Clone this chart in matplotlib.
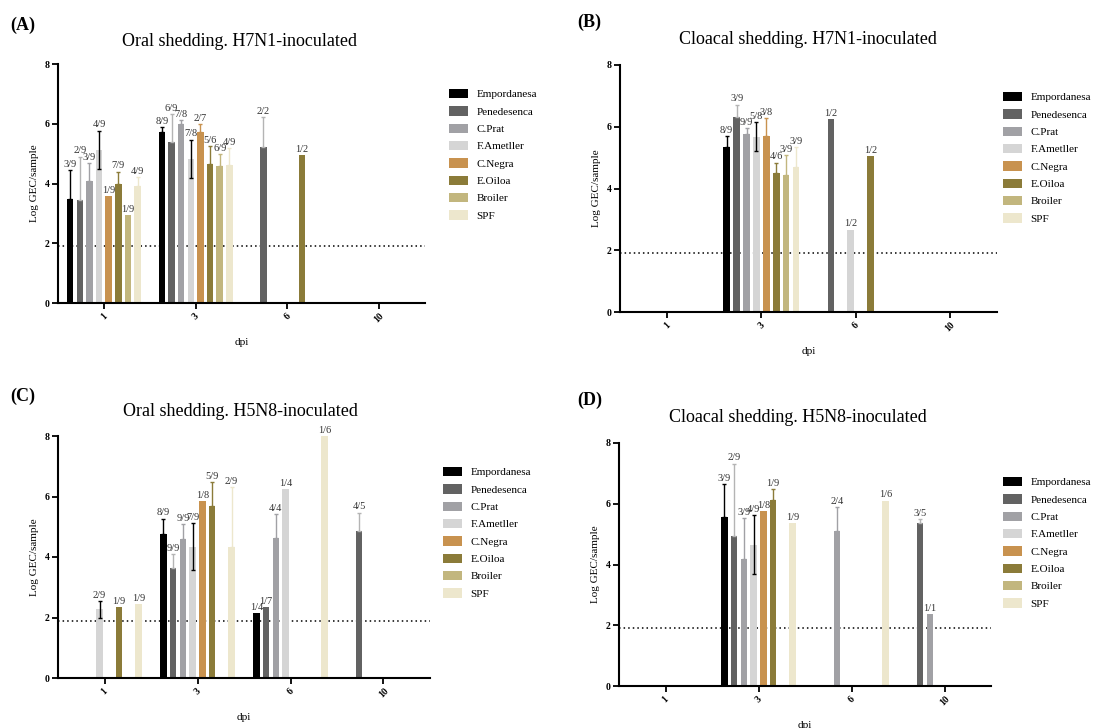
import numpy as np
import matplotlib
matplotlib.use('Agg')
import matplotlib.pyplot as plt
from matplotlib.patches import Patch

plt.rcParams['font.family'] = ['Liberation Serif', 'DejaVu Serif']

nan = np.nan

breeds = ['Empordanesa', 'Penedesenca', 'C.Prat', 'F.Ametller', 'C.Negra', 'E.Oiloa', 'Broiler', 'SPF']
dpi_labels = ['1', '3', '6', '10']
colors = ['#000000', '#626262', '#a1a1a5', '#d5d5d5', '#c8924f', '#8b7b39', '#c2b67e', '#ede7cd']
err_colors = ['#000000', '#b4b4b4', '#a1a1a5', '#000000', '#c8924f', '#8b7b39', '#c2b67e', '#ede7cd']

# (A) oral, H7N1 -- rows = breeds, cols = dpi
a_mean = [[3.49, 5.72, nan, nan],
          [3.45, 5.40, 5.21, nan],
          [4.10, 5.99, nan, nan],
          [5.13, 4.82, nan, nan],
          [3.57, 5.74, nan, nan],
          [3.98, 4.65, 4.95, nan],
          [2.95, 4.59, nan, nan],
          [3.92, 4.61, nan, nan]]
a_err = [[0.97, 0.16, 0, 0],
         [1.45, 0.92, 1.01, 0],
         [0.58, 0.12, 0, 0],
         [0.64, 0.65, 0, 0],
         [0, 0.25, 0, 0],
         [0.42, 0.59, 0, 0],
         [0, 0.40, 0, 0],
         [0.29, 0.57, 0, 0]]
a_n = [['3/9', '8/9', '', ''],
       ['2/9', '6/9', '2/2', ''],
       ['3/9', '7/8', '', ''],
       ['4/9', '7/8', '', ''],
       ['1/9', '2/7', '', ''],
       ['7/9', '5/6', '1/2', ''],
       ['1/9', '6/9', '', ''],
       ['4/9', '4/9', '', '']]

# (B) cloacal, H7N1
b_mean = [[nan, 5.34, nan, nan],
          [nan, 6.30, 6.24, nan],
          [nan, 5.76, nan, nan],
          [nan, 5.68, 2.67, nan],
          [nan, 5.70, nan, nan],
          [nan, 4.49, 5.05, nan],
          [nan, 4.43, nan, nan],
          [nan, 4.69, nan, nan]]
b_err = [[0, 0.36, 0, 0],
         [0, 0.42, 0, 0],
         [0, 0.19, 0, 0],
         [0, 0.48, 0, 0],
         [0, 0.59, 0, 0],
         [0, 0.35, 0, 0],
         [0, 0.65, 0, 0],
         [0, 0.64, 0, 0]]
b_n = [['', '8/9', '', ''],
       ['', '3/9', '1/2', ''],
       ['', '9/9', '', ''],
       ['', '5/8', '1/2', ''],
       ['', '3/8', '', ''],
       ['', '4/6', '1/2', ''],
       ['', '3/9', '', ''],
       ['', '3/9', '', '']]

# (C) oral, H5N8
c_mean = [[nan, 4.76, 2.14, nan],
          [nan, 3.65, 2.34, 4.87],
          [nan, 4.59, 4.64, nan],
          [2.27, 4.34, 6.24, nan],
          [nan, 5.85, nan, nan],
          [2.34, 5.68, nan, nan],
          [nan, nan, nan, nan],
          [2.44, 4.34, 8.00, nan]]
c_err = [[0, 0.51, 0, 0],
         [0, 0.44, 0, 0.60],
         [0, 0.49, 0.77, 0],
         [0.28, 0.78, 0, 0],
         [0, 0, 0, 0],
         [0, 0.79, 0, 0],
         [0, 0, 0, 0],
         [0, 1.98, 0, 0]]
c_n = [['', '8/9', '1/4', ''],
       ['', '9/9', '1/7', '4/5'],
       ['', '9/9', '4/4', ''],
       ['2/9', '7/9', '1/4', ''],
       ['', '1/8', '', ''],
       ['1/9', '5/9', '', ''],
       ['', '', '', ''],
       ['1/9', '2/9', '1/6', '']]

# (D) cloacal, H5N8
d_mean = [[nan, 5.58, nan, nan],
          [nan, 4.95, nan, 5.36],
          [nan, 4.18, 5.09, 2.36],
          [nan, 4.65, nan, nan],
          [nan, 5.75, nan, nan],
          [nan, 6.13, nan, nan],
          [nan, nan, nan, nan],
          [nan, 5.36, 6.10, nan]]
d_err = [[0, 1.07, 0, 0],
         [0, 2.37, 0, 0.13],
         [0, 1.35, 0.80, 0],
         [0, 0.97, 0, 0],
         [0, 0, 0, 0],
         [0, 0.36, 0, 0],
         [0, 0, 0, 0],
         [0, 0, 0, 0]]
d_n = [['', '3/9', '', ''],
       ['', '2/9', '', '3/5'],
       ['', '3/9', '2/4', '1/1'],
       ['', '4/9', '', ''],
       ['', '1/8', '', ''],
       ['', '1/9', '', ''],
       ['', '', '', ''],
       ['', '1/9', '1/6', '']]

detect_limit = 1.9


def panel(rect, mean, err, n, tag, title, tag_xy, title_xy, leg_xy):
    ax = fig.add_axes(rect)
    x = np.arange(len(dpi_labels))
    step, width = 0.105, 0.07
    for i in range(len(breeds)):
        m = np.array(mean[i], dtype=float)
        e = np.array(err[i], dtype=float)
        pos = x + (i - 3.5) * step
        ax.bar(pos, m, width=width, color=colors[i], zorder=2)
        for j in range(len(x)):
            if np.isnan(m[j]):
                continue
            top = m[j]
            if e[j] > 0:
                lo = e[j] if err_colors[i] == '#000000' and i == 3 else 0
                ax.errorbar(pos[j], m[j], yerr=[[lo], [e[j]]], fmt='none',
                            ecolor=err_colors[i], elinewidth=1, capsize=1.5,
                            capthick=1, zorder=3)
                top = m[j] + e[j]
            if n[i][j]:
                ax.text(pos[j], top + 0.04, n[i][j], ha='center', va='bottom',
                        fontsize=7.5, color='#333333', clip_on=False, zorder=4)
    ax.axhline(detect_limit, color='black', ls=(0, (1, 2)), lw=1.1, zorder=1)
    ax.set_xlim(-0.5, 3.5)
    ax.set_ylim(0, 8)
    ax.set_yticks([0, 2, 4, 6, 8])
    ax.set_xticks(x)
    ax.set_xticklabels(dpi_labels, rotation=45, ha='center', va='top')
    for lab in ax.get_xticklabels() + ax.get_yticklabels():
        lab.set_fontweight('bold')
        lab.set_fontsize(7)
    ax.tick_params(direction='out', length=4, width=1.3, pad=2)
    for s in ['top', 'right']:
        ax.spines[s].set_visible(False)
    for s in ['left', 'bottom']:
        ax.spines[s].set_linewidth(1.5)
    ax.set_ylabel('Log GEC/sample', fontsize=8)
    ax.set_xlabel('dpi', fontsize=8, labelpad=10)
    fig.text(tag_xy[0], tag_xy[1], tag, fontsize=13, fontweight='bold', va='center')
    fig.text(title_xy[0], title_xy[1], title, fontsize=13, ha='center', va='center')
    handles = [Patch(facecolor=colors[k], edgecolor='none') for k in range(len(breeds))]
    fig.legend(handles, breeds, loc='upper left', bbox_to_anchor=leg_xy,
               frameon=False, fontsize=8, handlelength=1.75, handleheight=0.9,
               handletextpad=0.7, labelspacing=0.62, borderpad=0, borderaxespad=0)
    return ax


fig = plt.figure(figsize=(11.06, 7.28), dpi=100)

W, H = 1106.0, 728.0
panel([58 / W, 1 - 303 / H, 367 / W, 239 / H], a_mean, a_err, a_n, '(A)',
      'Oral shedding. H7N1-inoculated', (10 / W, 1 - 25 / H), (240 / W, 1 - 41 / H),
      (449 / W, 1 - 89 / H))
panel([620 / W, 1 - 312 / H, 377 / W, 247 / H], b_mean, b_err, b_n, '(B)',
      'Cloacal shedding. H7N1-inoculated', (577 / W, 1 - 22 / H), (808 / W, 1 - 40 / H),
      (1003 / W, 1 - 92 / H))
panel([58 / W, 1 - 678 / H, 372 / W, 242 / H], c_mean, c_err, c_n, '(C)',
      'Oral shedding. H5N8-inoculated', (10 / W, 1 - 396 / H), (240 / W, 1 - 411 / H),
      (443 / W, 1 - 467 / H))
panel([619 / W, 1 - 686 / H, 372 / W, 243 / H], d_mean, d_err, d_n, '(D)',
      'Cloacal shedding. H5N8-inoculated', (577 / W, 1 - 400 / H), (798 / W, 1 - 417 / H),
      (1003 / W, 1 - 477 / H))

plt.savefig('out.png', dpi=100)
